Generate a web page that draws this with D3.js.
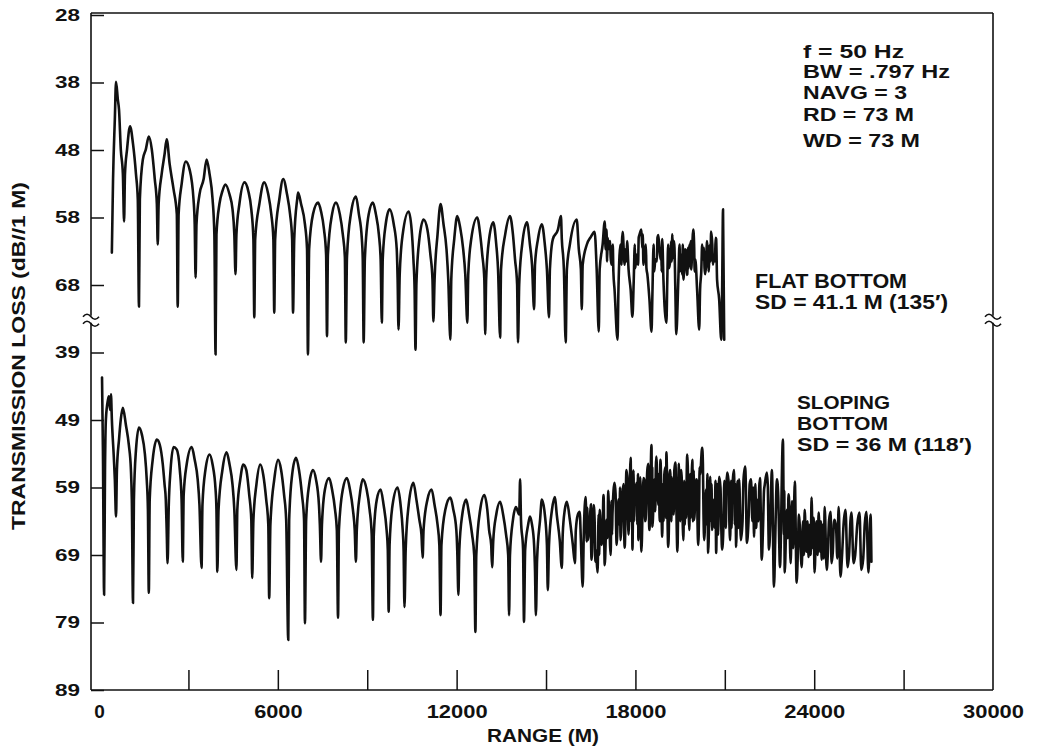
<!DOCTYPE html>
<html>
<head>
<meta charset="utf-8">
<script src="https://cdn.jsdelivr.net/npm/d3@7"></script>
<style>
  html, body { margin: 0; padding: 0; background: #fff; }
  svg { display: block; }
  text { font-family: "Liberation Sans", Arial, Helvetica, sans-serif; font-weight: bold; fill: #111; }
</style>
</head>
<body>
<svg id="chart" width="1041" height="750"></svg>
<script>
// ---------------- DATA ----------------
const xLabelTicks = [0, 6000, 12000, 18000, 24000, 30000];
const xMinorTicks = [3000, 6000, 9000, 12000, 15000, 18000, 21000, 24000, 27000];
const topTicks = [28, 38, 48, 58, 68];          // FLAT BOTTOM panel (dB)
const bottomTicks = [39, 49, 59, 69, 79, 89];   // SLOPING BOTTOM panel (dB)
const annotations = ["f = 50 Hz", "BW = .797 Hz", "NAVG = 3", "RD = 73 M", "WD = 73 M"];
const flatLabel = ["FLAT BOTTOM", "SD = 41.1 M (135\u2032)"];
const slopeLabel = ["SLOPING", "BOTTOM", "SD = 36 M (118\u2032)"];

// [range (m), transmission loss (dB)]
const flatBottomData = [
[430,63.2],[470,52.3],[530,43.4],[570,37.9],[630,40.5],[670,42.0],[730,47.9],[800,51.6],[840,58.6],[870,51.6],
[940,47.9],[1040,44.5],[1140,47.1],[1240,51.6],[1300,55.3],[1340,71.2],[1370,55.3],[1470,49.4],[1570,47.9],[1670,46.0],
[1770,47.9],[1870,52.3],[1940,56.0],[1970,62.0],[2000,56.0],[2100,51.6],[2200,48.6],[2270,46.4],[2370,50.1],[2500,53.8],
[2610,57.5],[2640,71.2],[2670,57.5],[2770,53.1],[2910,49.7],[3040,50.9],[3170,55.3],[3210,59.0],[3240,66.9],[3270,59.0],
[3370,54.6],[3510,52.3],[3610,49.4],[3710,51.6],[3810,55.3],[3870,60.5],[3910,78.3],[3940,60.5],[4040,56.0],[4140,54.1],
[4240,53.1],[4380,54.6],[4480,56.8],[4540,60.5],[4580,66.4],[4610,60.5],[4710,56.0],[4880,52.8],[5010,54.1],[5110,56.8],
[5180,61.2],[5210,72.8],[5240,61.2],[5380,56.0],[5540,52.8],[5680,54.6],[5780,57.5],[5850,61.2],[5880,72.1],[5910,61.2],
[6050,55.3],[6180,52.3],[6310,54.6],[6410,57.5],[6480,61.2],[6510,72.1],[6550,61.2],[6650,55.3],[6680,54.3],[6780,56.0],
[6910,59.0],[6980,62.7],[7010,78.3],[7050,62.7],[7180,57.5],[7350,55.8],[7450,57.1],[7550,59.8],[7620,63.5],[7650,75.6],
[7680,63.5],[7820,57.5],[7950,55.8],[8080,57.5],[8180,60.5],[8250,63.9],[8280,76.5],[8320,63.9],[8450,57.5],[8620,54.9],
[8720,57.5],[8820,61.2],[8850,64.2],[8880,76.5],[8920,64.2],[9050,57.5],[9190,55.8],[9290,57.5],[9390,60.5],[9450,64.2],
[9490,73.6],[9520,64.2],[9620,59.0],[9750,56.8],[9890,59.0],[9990,62.7],[10020,67.2],[10050,74.6],[10090,66.4],[10190,60.5],
[10390,57.1],[10490,59.8],[10550,64.2],[10590,68.7],[10620,77.6],[10650,67.9],[10750,61.2],[10890,58.3],[11020,59.8],[11120,63.5],
[11190,67.2],[11220,73.4],[11260,67.2],[11360,60.5],[11460,56.0],[11560,59.0],[11660,62.7],[11720,67.2],[11790,76.1],[11820,67.2],
[11920,61.2],[12020,57.8],[12120,59.5],[12220,62.7],[12290,66.4],[12360,73.6],[12390,66.4],[12490,61.2],[12690,58.0],[12790,60.5],
[12860,63.5],[12930,67.2],[12960,75.3],[12990,67.2],[13090,61.2],[13230,58.7],[13330,62.0],[13390,65.7],[13460,75.8],[13490,65.7],
[13630,60.5],[13790,57.8],[13890,60.5],[13960,64.2],[14030,67.9],[14060,76.5],[14100,67.9],[14200,62.0],[14360,58.7],[14460,62.0],
[14530,65.0],[14600,71.6],[14630,65.0],[14730,61.2],[14860,59.0],[14960,62.0],[15030,65.7],[15100,72.8],[15130,65.7],[15230,61.2],
[15400,59.8],[15500,57.8],[15530,61.2],[15600,65.7],[15660,76.5],[15700,65.7],[15800,62.0],[16030,58.3],[16100,62.7],[16170,65.7],
[16200,71.6],[16230,65.0],[16370,62.0],[16500,60.9],[16630,60.1],[16700,65.7],[16770,74.9],[16800,65.7],[16900,62.0],[16970,58.6],
[17000,62.7],[17030,59.8],[17100,62.7],[17200,65.0],[17300,68.7],[17400,76.1],[17430,68.7],[17500,62.0],[17570,60.1],[17640,65.0],
[17670,62.7],[17770,65.7],[17840,68.7],[17900,72.7],[17940,67.9],[18040,63.5],[18140,60.5],[18200,59.8],[18270,65.0],[18300,63.5],
[18400,66.4],[18470,70.1],[18540,74.9],[18570,69.4],[18670,64.2],[18770,60.6],[18840,64.2],[18900,61.2],[18940,67.2],[19040,73.6],
[19070,67.2],[19170,64.2],[19240,60.5],[19310,62.4],[19340,68.7],[19370,75.3],[19440,67.2],[19540,63.5],[19610,67.2],[19670,62.7],
[19740,66.4],[19810,62.0],[19870,65.7],[19940,59.8],[20010,64.2],[20070,68.7],[20140,74.6],[20170,68.7],[20270,64.2],[20340,66.4],
[20410,62.0],[20470,65.0],[20540,60.1],[20640,63.5],[20710,61.2],[20740,67.2],[20810,70.1],[20880,76.1],[20910,68.7],[20940,56.8],
[20980,76.1]
];

// finer oscillations read inside the noisy far-range part of the flat-bottom trace
const flatBottomBand = [
[17050,64.5],[17070,61.0],[17150,61.5],[17170,64.0],[17240,62.0],[17260,66.0],[17530,65.0],[17550,61.5],[17700,64.5],[17720,61.5],
[17980,62.0],[17995,65.5],[18090,65.0],[18110,61.0],[18230,62.5],[18245,60.5],[18350,62.0],[18370,65.5],[18610,62.0],[18630,66.0],
[18720,64.5],[18740,61.0],[18870,62.5],[18880,66.0],[19100,62.0],[19130,65.5],[19200,61.5],[19215,64.5],[19270,64.0],[19290,61.5],
[19480,62.0],[19500,66.0],[19570,66.5],[19590,62.0],[19700,63.0],[19720,66.5],[19770,62.5],[19790,65.5],[19840,64.5],[19855,61.5],
[19900,63.5],[19920,61.0],[19970,62.0],[19990,66.0],[20210,66.0],[20240,62.0],[20300,62.5],[20320,65.5],[20380,64.5],[20395,61.5],
[20440,63.0],[20455,66.0],[20500,62.0],[20520,64.5],[20580,62.0],[20600,65.0],[20670,64.5],[20690,61.0]
];

const slopingBottomData = [
[100,42.7],[130,53.4],[170,74.9],[200,56.4],[230,48.9],[300,46.0],[330,45.5],[370,47.5],[400,45.2],[430,48.9],
[500,54.9],[530,57.8],[570,63.3],[600,56.4],[670,51.9],[730,48.9],[800,47.2],[900,49.7],[1000,52.7],[1070,56.4],
[1100,60.8],[1140,76.1],[1170,60.8],[1240,53.4],[1340,50.1],[1440,51.2],[1540,54.1],[1600,57.8],[1640,62.3],[1670,74.6],
[1700,60.8],[1800,54.9],[1940,51.9],[2040,52.7],[2140,55.6],[2200,58.6],[2240,60.8],[2270,65.3],[2300,70.2],[2340,61.6],
[2400,56.4],[2500,53.0],[2610,53.4],[2710,56.4],[2770,60.8],[2810,70.0],[2840,60.1],[2940,55.6],[3110,53.0],[3210,54.9],
[3310,57.8],[3370,61.6],[3440,70.9],[3470,61.6],[3570,56.4],[3710,54.1],[3810,55.6],[3910,59.3],[3940,62.3],[3970,71.5],
[4010,62.3],[4140,56.4],[4280,53.8],[4380,55.6],[4480,58.6],[4540,62.3],[4610,71.2],[4640,62.3],[4740,57.8],[4840,55.6],
[4940,56.4],[5040,60.1],[5110,63.8],[5140,72.4],[5180,63.8],[5280,58.6],[5410,55.6],[5510,57.1],[5610,60.8],[5680,64.5],
[5710,75.4],[5750,64.5],[5880,57.8],[6010,54.9],[6110,56.4],[6210,60.1],[6280,63.8],[6350,81.6],[6380,63.8],[6480,57.1],
[6610,54.6],[6710,56.4],[6810,60.1],[6880,63.8],[6910,79.1],[6950,63.8],[7050,58.6],[7180,56.4],[7280,57.8],[7380,61.6],
[7410,64.5],[7450,70.0],[7480,64.5],[7580,59.3],[7720,57.6],[7820,59.3],[7920,62.3],[7980,65.3],[8020,78.3],[8050,65.3],
[8180,59.3],[8320,57.6],[8420,59.3],[8520,62.3],[8580,65.3],[8620,70.0],[8650,65.3],[8750,60.1],[8850,57.8],[8980,59.3],
[9080,62.3],[9150,66.0],[9190,78.6],[9220,66.0],[9320,60.8],[9450,59.3],[9550,61.6],[9650,65.3],[9690,68.2],[9720,77.4],
[9750,67.5],[9850,61.6],[10020,59.0],[10120,61.6],[10190,65.3],[10220,68.2],[10250,76.7],[10290,68.2],[10390,61.6],[10550,58.3],
[10650,60.8],[10750,63.8],[10820,66.0],[10860,69.4],[10890,65.3],[11020,60.8],[11160,59.3],[11260,61.6],[11360,64.5],[11420,67.5],
[11460,77.9],[11490,67.5],[11620,62.3],[11790,60.5],[11890,62.3],[11990,65.3],[12020,68.2],[12060,74.9],[12090,68.2],[12190,63.0],
[12320,60.8],[12420,63.0],[12520,66.0],[12590,69.0],[12630,80.4],[12660,69.0],[12790,62.3],[12930,60.1],[13030,62.3],[13090,65.3],
[13160,67.5],[13190,70.8],[13230,66.8],[13330,63.0],[13460,61.1],[13560,63.0],[13660,66.0],[13730,69.0],[13760,77.9],[13790,69.0],
[13890,63.8],[13990,61.9],[14100,63.0],[14130,57.8],[14160,63.8],[14230,68.2],[14260,78.9],[14300,68.2],[14400,64.5],[14460,63.3],
[14530,64.5],[14600,67.5],[14630,71.2],[14660,77.9],[14700,69.7],[14800,63.8],[14860,60.8],[14960,63.0],[15030,67.5],[15060,74.2],
[15100,67.5],[15200,62.3],[15300,60.4],[15360,63.0],[15460,66.8],[15530,70.9],[15560,66.0],[15630,62.3],[15700,61.1],[15800,63.8],
[15900,67.5],[15970,70.2],[16000,65.3],[16070,63.0],[16130,62.6],[16170,66.8],[16230,73.7],[16270,65.3],[16330,60.4],[16400,66.8],
[16470,63.8],[16530,69.7],[16600,61.6],[16670,68.2],[16730,71.6],[16800,62.3],[16870,67.5],[16930,60.1],[16970,70.5],[17030,63.8],
[17100,60.8],[17170,69.0],[17230,63.0],[17300,58.3],[17370,67.5],[17430,60.8],[17500,66.8],[17570,59.6],[17640,67.9],[17700,56.4],
[17770,66.0],[17840,54.6],[17900,68.2],[17970,60.8],[18040,58.3],[18100,66.8],[18140,59.3],[18200,68.5],[18270,57.6],[18340,63.8],
[18400,56.4],[18470,65.3],[18540,52.7],[18570,64.8],[18640,57.8],[18700,54.4],[18770,61.6],[18840,54.9],[18900,66.3],[18970,57.1],
[19040,53.8],[19100,67.8],[19170,56.4],[19240,60.8],[19340,55.3],[19410,68.5],[19470,59.3],[19540,56.4],[19610,66.8],[19670,60.8],
[19740,54.1],[19810,65.3],[19910,54.9],[19970,63.8],[20040,57.8],[20110,67.5],[20170,57.1],[20240,53.1],[20310,66.8],[20370,59.3],
[20440,68.7],[20510,57.4],[20570,65.3],[20640,60.8],[20710,68.7],[20810,57.4],[20910,68.2],[21010,59.3],[21080,56.8],[21180,66.8],
[21240,60.8],[21310,56.4],[21380,67.8],[21480,57.8],[21540,66.8],[21680,55.9],[21740,67.2],[21880,57.8],[21980,66.3],[22080,60.8],
[22180,57.6],[22240,69.7],[22340,58.6],[22410,56.8],[22480,68.2],[22580,56.4],[22650,73.7],[22750,57.8],[22850,70.8],[22950,51.9],
[23010,71.6],[23080,62.3],[23150,60.4],[23210,70.2],[23350,58.1],[23410,73.1],[23510,64.2],[23580,70.8],[23680,62.3],[23810,69.3],
[23910,60.5],[24010,71.6],[24150,62.7],[24250,69.7],[24350,61.9],[24420,71.2],[24550,62.6],[24580,70.2],[24680,63.8],[24820,61.9],
[24880,72.2],[25050,62.3],[25120,70.8],[25250,62.7],[25320,70.2],[25520,62.7],[25580,71.2],[25750,62.6],[25820,71.6],[25890,63.0],
[25920,70.0]
];

// finer oscillations read inside the dense (noisy) band of the sloping-bottom trace
const slopingBottomBand = [
[16365,67.0],[16385,62.0],[16505,61.5],[16515,68.0],[16635,64.5],[16655,70.0],[16765,63.0],[16785,69.0],[16905,66.0],[16915,62.0],
[17065,66.5],[17085,59.5],[17195,61.0],[17215,66.0],[17335,60.0],[17355,65.5],[17465,64.5],[17485,59.0],[17605,58.5],[17625,66.0],
[17735,58.0],[17755,64.5],[17865,64.0],[17885,57.0],[17935,56.5],[17955,64.0],[18065,64.5],[18085,57.0],[18165,57.5],[18185,65.5],
[18305,58.0],[18325,64.0],[18435,55.5],[18455,63.5],[18555,63.0],[18565,56.0],[18665,62.5],[18685,56.0],[18785,57.0],[18815,64.0],
[18925,58.5],[18945,64.0],[19005,56.0],[19025,63.5],[19125,64.5],[19145,57.0],[19205,64.0],[19225,57.5],[19285,63.0],[19305,56.5],
[19435,62.0],[19455,55.5],[19505,64.0],[19525,57.0],[19635,58.0],[19655,64.5],[19705,63.5],[19725,56.0],[19835,57.0],[19855,63.5],
[19935,64.0],[19955,56.5],[20065,58.0],[20085,64.5],[20135,63.0],[20155,56.0],[20265,55.5],[20285,63.0],[20395,64.5],[20415,57.0],
[20535,64.0],[20555,58.5],[20665,65.0],[20685,58.0],[20745,58.5],[20775,66.0],[20855,59.0],[20885,65.5],[20955,64.5],[20985,58.0],
[21035,65.0],[21055,58.5],[21125,58.0],[21155,64.5],[21205,58.0],[21225,65.0],[21335,64.5],[21355,58.5],[21425,58.0],[21455,65.0],
[21595,64.0],[21625,58.0],[21705,58.5],[21725,64.5],[21795,64.0],[21835,58.5],[21925,64.0],[21955,59.0],[22025,58.5],[22055,65.0],
[22125,64.0],[22155,59.0],[22285,64.5],[22315,59.5],[22445,59.0],[22465,65.5],[22525,64.5],[22555,59.0],[22695,66.0],[22725,60.0],
[22795,60.5],[22825,67.0],[22985,66.0],[22995,59.5],[23115,66.5],[23135,60.0],[23255,61.0],[23295,68.0],[23455,68.0],[23485,63.0],
[23625,64.0],[23655,69.0],[23735,68.5],[23775,64.0],[23855,64.5],[23885,69.0],[23955,68.0],[23985,63.5],[24075,64.0],[24115,69.0],
[24195,68.5],[24225,64.0],[24295,64.5],[24325,69.5],[24455,69.0],[24495,64.0],[24625,68.5],[24655,64.5],[24735,65.0],[24775,69.5],
[24935,69.0],[24985,64.5],[25175,68.5],[25215,64.0],[25375,69.0],[25445,64.5],[25645,69.5],[25695,64.5]
];

// ---------------- CHART ----------------
const svg = d3.select("#chart");
const mLeft = 91, mRight = 993, mTop = 13, mBottom = 690;

const x = d3.scaleLinear().domain([-270, 30000]).range([mLeft, mRight]);
// continuous vertical scale; the lower panel is offset by 39 dB below the break
const yAll = d3.scaleLinear().domain([28, 128]).range([15, mBottom]);
const yTop = d3.scaleLinear().domain([28, 73]).range([yAll(28), yAll(73)]);
const yBot = d3.scaleLinear().domain([34, 89]).range([yAll(73), yAll(128)]);
const breakY = yAll(73);

const byRange = (a, b) => a[0] - b[0];
const flatAll = flatBottomData.concat(flatBottomBand).sort(byRange);
const slopingAll = slopingBottomData.concat(slopingBottomBand).sort(byRange);

// traces
const lineTop = d3.line().curve(d3.curveMonotoneX).x(d => x(d[0])).y(d => yTop(d[1]));
const lineBot = d3.line().curve(d3.curveMonotoneX).x(d => x(d[0])).y(d => yBot(d[1]));
[[lineTop, flatAll], [lineBot, slopingAll]].forEach(([ln, data]) => {
  svg.append("path").attr("d", ln(data))
    .attr("fill", "none").attr("stroke", "#111").attr("stroke-width", 2.6)
    .attr("stroke-linejoin", "round").attr("stroke-linecap", "round");
});

// frame
const frame = svg.append("g").attr("stroke", "#111").attr("stroke-width", 1.6).attr("fill", "none");
frame.append("line").attr("x1", mLeft).attr("x2", mRight).attr("y1", mTop).attr("y2", mTop);
frame.append("line").attr("x1", mLeft).attr("x2", mRight).attr("y1", mBottom).attr("y2", mBottom);
[mLeft, mRight].forEach(xx => {
  frame.append("line").attr("x1", xx).attr("x2", xx).attr("y1", mTop).attr("y2", breakY - 3);
  frame.append("line").attr("x1", xx).attr("x2", xx).attr("y1", breakY + 4).attr("y2", mBottom);
  // break symbol
  [-3, 4].forEach(o => {
    frame.append("path")
      .attr("d", `M${xx - 8},${breakY + o + 1} q4,-5 8,0 t8,0`)
      .attr("stroke-width", 1.6);
  });
});

// y axes
const yAxisTop = d3.axisLeft(yTop).tickValues(topTicks).tickSizeInner(-13).tickSizeOuter(0).tickPadding(11);
const yAxisBot = d3.axisLeft(yBot).tickValues(bottomTicks).tickSizeInner(-13).tickSizeOuter(0).tickPadding(11);
[yAxisTop, yAxisBot].forEach(ax => {
  const g = svg.append("g").attr("transform", `translate(${mLeft},0)`).call(ax);
  g.select(".domain").remove();
  g.selectAll("line").attr("stroke", "#111").attr("stroke-width", 1.5);
  g.selectAll("text").attr("font-size", 17).attr("font-family", null).attr("fill", "#111")
    .attr("textLength", 25).attr("lengthAdjust", "spacingAndGlyphs");
});

// x axis
const xAxis = d3.axisBottom(x).tickValues(xMinorTicks).tickSizeInner(-20).tickSizeOuter(0)
  .tickFormat(() => "");
const gx = svg.append("g").attr("transform", `translate(0,${mBottom})`).call(xAxis);
gx.select(".domain").remove();
gx.selectAll("line").attr("stroke", "#111").attr("stroke-width", 1.5);
const xLab = d3.axisBottom(x).tickValues(xLabelTicks).tickSize(0).tickPadding(15).tickFormat(d3.format("d"));
const gl = svg.append("g").attr("transform", `translate(0,${mBottom})`).call(xLab);
gl.select(".domain").remove();
gl.selectAll("text").attr("font-size", 19).attr("font-family", null).attr("fill", "#111")
  .attr("textLength", d => String(d).length * 12.6 - 2).attr("lengthAdjust", "spacingAndGlyphs");

// axis titles
svg.append("text").attr("x", 543).attr("y", 742).attr("text-anchor", "middle")
  .attr("font-size", 19).attr("textLength", 112).attr("lengthAdjust", "spacingAndGlyphs").text("RANGE (M)");
svg.append("text").attr("transform", "translate(25,356) rotate(-90)").attr("text-anchor", "middle")
  .attr("font-size", 19).attr("textLength", 348).attr("lengthAdjust", "spacingAndGlyphs")
  .text("TRANSMISSION LOSS (dB//1 M)");

// annotations
const annY = [58, 78, 99, 121, 147];
const annW = [101, 147, 104, 111, 117];
annotations.forEach((t, i) => {
  svg.append("text").attr("x", 803).attr("y", annY[i]).attr("font-size", 18)
    .attr("textLength", annW[i]).attr("lengthAdjust", "spacingAndGlyphs").text(t);
});
const flatY = [288, 309], flatW = [152, 193];
flatLabel.forEach((t, i) => {
  svg.append("text").attr("x", 755).attr("y", flatY[i]).attr("font-size", 19.5)
    .attr("textLength", flatW[i]).attr("lengthAdjust", "spacingAndGlyphs").text(t);
});
const slopeY = [409, 430, 451], slopeW = [93, 91, 175];
slopeLabel.forEach((t, i) => {
  svg.append("text").attr("x", 797).attr("y", slopeY[i]).attr("font-size", 19)
    .attr("textLength", slopeW[i]).attr("lengthAdjust", "spacingAndGlyphs").text(t);
});
</script>
</body>
</html>
